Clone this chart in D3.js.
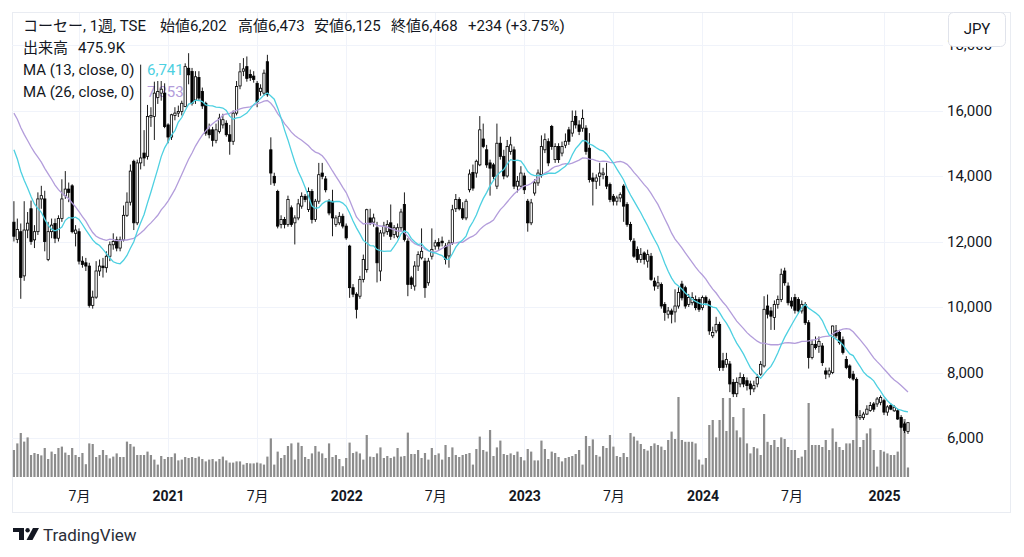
<!DOCTYPE html>
<html>
<head>
<meta charset="utf-8">
<script src="https://cdn.jsdelivr.net/npm/d3@7"></script>
<style>
  body { margin: 0; background: #fff; }
  svg { display: block; }
  text { font-family: Roboto, "Noto Sans CJK JP", sans-serif; fill: #131722; }
</style>
</head>
<body>
<div id="chart"></div>
<script>
// weekly bars, 2020-02-24 .. 2025-02-24 (index 0..261)
// closes before the first visible bar, estimated from where the two MA lines start
var preCloses = [17200,17500,17800,17400,17000,16800,17100,17300,16900,16700,16800,16700,16320,
  16000,15800,15900,15600,15400,15300,15100,14900,14800,14600,14100,12740];

var opens = [
  12590,12060,12300,10950,12350,13000,12050,12300,13300,13300,
  11450,12300,12550,12100,12700,13400,13600,13700,12250,12300,
  11400,11350,11250,10050,10300,11100,11250,11200,11550,11900,
  12050,11800,12050,12800,13200,14450,12570,14400,14700,14600,
  15800,15820,16400,16530,16530,15560,15190,15850,15920,15970,
  16120,17290,17190,16320,17010,16580,16220,15410,15410,15090,
  15360,15560,15610,15260,15060,15920,16750,17200,17340,17100,
  17050,16830,16580,16530,17490,14800,13990,13530,12520,12670,
  12520,13030,12570,12720,13080,13380,12980,13530,12670,13230,
  14090,13910,13230,13230,12520,12570,12770,12470,11860,10590,
  10390,10330,10840,11140,12720,12590,12420,11100,12260,12300,
  12570,12210,12160,12420,13130,12010,10890,10640,11250,11500,
  11400,10740,11550,11860,11970,12010,11860,11560,11960,13000,
  13280,13000,12720,13580,14110,14090,14340,15130,14800,14400,
  14340,13690,15000,14600,14000,14750,14800,13690,13690,14000,
  13230,12570,13480,13790,14040,14800,15050,15510,14500,14900,
  14700,14940,15410,15310,15820,15560,15460,15460,14850,13940,
  13840,13990,14040,13990,13740,13380,13230,13330,13690,13130,
  12520,12010,11760,11450,11650,11400,11550,10790,10640,10690,
  10080,9780,9880,9850,10030,10700,10590,10080,10130,10230,
  10230,9980,10290,10180,9120,9270,9470,8360,8250,8260,
  7700,7350,7650,7850,7750,7650,7500,7650,7950,8200,
  10030,9880,9680,10080,10230,11100,10640,10180,10290,10230,
  9880,10080,9520,8460,8860,8800,8810,8050,7950,8000,
  9270,9220,9000,8400,8200,7950,7790,6620,6620,6730,
  6840,7040,7040,7090,7140,6790,6990,6830,6830,6630,
  6430,6202];

var highs = [
  13230,12700,12550,13230,12900,13250,12500,13500,13700,13550,
  12600,12700,12700,12800,13900,14150,13800,13750,12500,12400,
  11550,11500,11350,10500,11400,11450,11500,11700,12000,12250,
  12150,12150,13100,13500,14350,14500,14500,17400,15400,16170,
  16100,16880,16900,16900,16830,15610,15900,16100,16150,16300,
  17440,17750,17300,17200,17200,16700,16270,15600,15500,15600,
  15900,15900,15700,15560,16000,16900,17450,17600,17650,17250,
  17200,16900,16800,17250,17700,15180,14100,13580,12800,12750,
  13400,13100,12800,13300,13500,13450,13650,13600,13300,14400,
  14400,14000,13300,13580,12800,12900,12850,12550,11900,10700,
  10450,10950,11600,13000,13000,12850,12600,12350,12600,12650,
  13130,12500,12550,13000,13500,12100,10950,11400,11700,12400,
  11500,11500,12400,12050,12100,12150,11950,12050,13120,13450,
  13350,13200,13300,14200,14350,14500,15830,15600,14950,14500,
  14400,15600,15200,14800,15100,15200,14900,14000,14300,14100,
  13300,13300,13900,14200,15240,15300,15150,15560,15000,15000,
  15050,15300,15500,16000,16000,15700,16030,15550,15310,14100,
  14050,14400,14250,14400,13800,13450,13400,13500,13750,13200,
  12600,12100,11850,11800,11700,11750,11650,10900,10950,10750,
  10150,10000,9950,10540,10600,10800,10650,10400,10450,10350,
  10300,10350,10350,10250,9400,9700,9550,8600,8600,8350,
  7800,7850,8000,7950,7850,7750,7750,7950,8350,10330,
  10380,10000,10200,10350,11170,11200,10750,10300,10400,10300,
  10200,10150,9600,9000,9100,9100,8900,8150,8150,9430,
  9450,9300,9100,8500,8250,8050,7850,6850,6800,7000,
  7100,7100,7250,7300,7200,7000,7050,7000,6900,6700,
  6500,6473];

var lows = [
  12000,11950,10250,10800,12100,11900,11800,12200,13000,11700,
  11400,12100,11950,12000,12600,13300,13200,12250,11850,11300,
  11200,11100,9980,9950,10250,10950,10900,11050,11400,11750,
  11700,11700,12000,12750,13100,12350,12500,14200,14300,14500,
  15500,15100,16200,16300,15460,15000,15100,15700,15800,15850,
  16100,16800,16150,16200,16300,16050,15230,15150,14900,15000,
  15300,15450,15200,14650,14950,15850,16650,17050,16880,16900,
  16850,16100,16450,16450,16420,13730,13700,12400,12400,12400,
  12450,12450,11910,12650,13000,13200,12900,12550,12600,13150,
  13900,13500,12800,12160,12450,12500,12400,12050,10280,10300,
  9650,10250,10750,11050,12500,12450,10750,10790,12150,12200,
  12050,12100,12100,12300,12000,10330,10550,10500,11100,11450,
  10280,10650,11450,11750,11750,11850,11300,11200,11900,12900,
  12950,12660,12650,13500,13550,13950,14300,14850,14250,13400,
  13900,13600,14500,13900,13950,14650,13600,13500,13650,13450,
  12300,12500,13400,13700,13950,14700,14300,14800,14400,14400,
  14600,14850,14950,15200,15450,15250,15350,14650,13800,13100,
  13600,13700,13900,13600,13200,13100,13100,13200,12600,12450,
  12000,11500,11350,11350,11300,11200,10800,10500,10550,9950,
  9580,9650,9500,9530,9950,10200,9950,10000,10050,9900,
  9850,9900,10050,9150,9050,9200,8050,8050,8150,7400,
  7250,7250,7550,7550,7450,7310,7400,7550,7900,8150,
  9650,9300,9300,9950,10150,10650,10050,9950,9800,9800,
  9800,9450,8120,8400,8700,8600,8200,7800,7850,7950,
  9050,8850,8550,8100,7800,7750,6600,6550,6550,6700,
  6800,6800,6950,7000,6700,6680,6850,6800,6550,6300,
  6150,6125];

var closes = [
  12160,12370,10900,12350,12560,12000,12300,13300,13400,12000,
  12300,12500,12100,12700,13300,13600,13500,12300,12350,11400,
  11300,11250,10050,10300,11100,11250,11200,11550,11900,12000,
  11800,12050,12800,13200,14150,12570,14400,14550,14550,15820,
  15850,16530,16580,16650,15510,15190,15870,15920,15970,16220,
  17340,17090,16220,17030,16380,16140,15310,15260,15090,15410,
  15770,15720,15260,15060,15920,16730,17180,17270,16980,17000,
  16950,16270,16680,17140,16480,14090,13790,12470,12670,12520,
  13280,12520,12720,13150,13380,13280,13530,12670,13230,14040,
  13990,13580,12870,12720,12720,12770,12470,12110,10590,10390,
  9930,10840,11450,12970,12570,12720,11350,12260,12470,12520,
  12160,12420,12420,12900,12060,10690,10690,11250,11600,11700,
  10590,11400,11760,11960,11860,11960,11450,11960,12970,13280,
  13000,12720,13230,14060,13630,14450,15410,14900,14340,14240,
  13990,15000,14600,14000,14900,14950,13690,13840,14090,13580,
  12570,13180,13790,14090,14900,15110,14400,14900,14900,14500,
  14900,15060,15060,15670,15560,15360,15760,14750,13890,13840,
  13940,14090,14090,13690,13280,13230,13330,13430,13080,12520,
  12060,11550,11450,11600,11450,11600,10840,10640,10740,10030,
  9830,9880,9780,10030,10440,10280,10030,10290,10290,9980,
  9930,10290,10130,9270,9220,9470,8150,8150,8400,7650,
  7350,7700,7850,7650,7600,7500,7600,7850,8250,9930,
  9780,9720,10080,10230,11000,10740,10130,10030,9900,9880,
  10080,9520,8460,8860,8760,8950,8300,7950,8050,9420,
  9120,8910,8610,8150,7850,7800,6680,6680,6730,6880,
  6990,6880,7190,7240,6790,6950,6880,6940,6580,6330,
  6234,6468];

// volume in thousands of shares
var volumes = [
  1350,1680,2200,1770,1980,1100,1200,1150,1080,1450,
  900,1270,1150,1450,1520,1220,1100,1450,1100,1000,
  1200,640,1680,1650,1000,1100,1350,1100,930,1020,
  1180,1000,1000,1770,1650,1520,1100,1100,1100,1270,
  1100,870,620,1050,900,1000,1000,1180,830,870,
  1000,950,1000,950,1020,900,780,870,900,780,
  900,1020,830,720,720,780,780,620,700,680,
  680,720,680,620,1020,1930,620,1270,950,1100,
  1550,1680,870,1720,1550,1000,900,1180,1550,1270,
  1180,950,1680,1000,1100,900,540,950,1720,1200,
  1270,1180,870,2100,1020,1000,1180,1480,950,1050,
  950,1020,1450,1020,1050,2220,1150,1150,1350,950,
  1200,870,1450,1100,1180,870,1600,1000,1480,1100,
  1000,1100,1150,1200,620,1400,2020,1350,1270,2350,
  1050,1480,1820,1150,1100,1180,1100,1270,1000,830,
  1400,1270,830,830,1820,1400,900,1270,1200,1000,
  780,950,1000,1050,1150,1350,620,2050,1550,1880,
  1100,1020,1550,1450,2100,1520,1050,1000,1200,1000,
  2200,2020,1820,1650,1400,1320,1550,1680,1600,1520,
  1350,1850,2270,1900,4000,1850,1760,1760,1760,1680,
  870,620,950,2600,2850,1980,2850,3950,2300,3950,
  3000,2330,1980,3450,1680,1180,1500,1430,1100,3150,
  1760,1600,1850,1500,1980,1900,1500,1350,1350,950,
  1020,1350,3700,1600,1600,1600,1500,1850,1350,2430,
  1760,1500,1350,1680,1680,1850,3650,1500,1850,2180,
  2430,1350,520,1350,1270,1180,1100,1100,1270,3000,
  2900,476];

var tickIdx = [19, 45, 71, 97, 123, 149, 175, 201, 227, 254];
var tickLabels = ["7月", "2021", "7月", "2022", "7月", "2023", "7月", "2024", "7月", "2025"];
var priceTicks = [6000, 8000, 10000, 12000, 14000, 16000, 18000];

var W = 1024, H = 557;
var plotL = 12, plotR = 943, plotT = 13, plotB = 477;

var svg = d3.select("#chart").append("svg").attr("width", W).attr("height", H);

var x = d3.scaleLinear().domain([19, 254]).range([79, 884]);
var y = d3.scaleLinear().domain([6000, 16000]).range([438, 110.5]);
var vy = d3.scaleLinear().domain([0, 4000]).range([plotB, plotB - 80]);

// moving averages
var allCloses = preCloses.concat(closes);
function ma(n) {
  return closes.map(function(c, i) {
    return d3.mean(allCloses.slice(i + preCloses.length - n + 1, i + preCloses.length + 1));
  });
}
var ma13 = ma(13), ma26 = ma(26);

svg.append("defs").append("clipPath").attr("id", "clip")
  .append("rect").attr("x", plotL).attr("y", plotT).attr("width", plotR - plotL).attr("height", plotB - plotT);

// frame
svg.append("rect").attr("x", 12.5).attr("y", 12.5).attr("width", 998).attr("height", 500)
  .attr("fill", "none").attr("stroke", "#e9ecf2");

// grid
var grid = svg.append("g").attr("stroke", "#f0f3fa").attr("stroke-width", 1);
grid.selectAll("line.h").data(priceTicks).enter().append("line")
  .attr("x1", plotL).attr("x2", plotR)
  .attr("y1", function(d) { return Math.round(y(d)) + 0.5; })
  .attr("y2", function(d) { return Math.round(y(d)) + 0.5; });
grid.selectAll("line.v").data(tickIdx).enter().append("line")
  .attr("y1", plotT).attr("y2", plotB)
  .attr("x1", function(d) { return Math.round(x(d)) + 0.5; })
  .attr("x2", function(d) { return Math.round(x(d)) + 0.5; });

// legend (drawn under the candles)
var leg = svg.append("g").style("font-size", "15px");
var line1 = [["コーセー, 1週, TSE", 23], ["始値6,202", 160], ["高値6,473", 238],
  ["安値6,125", 314], ["終値6,468", 391], ["+234 (+3.75%)", 468]];
leg.selectAll("text.l1").data(line1).enter().append("text")
  .attr("x", function(d) { return d[1]; }).attr("y", 31).text(function(d) { return d[0]; });
leg.append("text").attr("x", 23).attr("y", 53).text("出来高");
leg.append("text").attr("x", 78).attr("y", 53).text("475.9K");
leg.append("text").attr("x", 23).attr("y", 75).text("MA (13, close, 0)");
leg.append("text").attr("x", 147).attr("y", 75).style("fill", "#4dd0e1").text("6,741");
leg.append("text").attr("x", 23).attr("y", 97).text("MA (26, close, 0)");
leg.append("text").attr("x", 147).attr("y", 97).style("fill", "#b39ddb").text("7,353");

var plot = svg.append("g").attr("clip-path", "url(#clip)");

// volume
plot.append("g").selectAll("rect").data(volumes).enter().append("rect")
  .attr("x", function(d, i) { return x(i) - 1.1; })
  .attr("width", 2.2)
  .attr("y", function(d) { return vy(d); })
  .attr("height", function(d) { return plotB - vy(d); })
  .attr("fill", "#8c8c8c");

// candles
var bars = closes.map(function(c, i) {
  return { i: i, o: opens[i], h: highs[i], l: lows[i], c: c };
});
var cg = plot.append("g");
cg.selectAll("line").data(bars).enter().append("line")
  .attr("x1", function(d) { return x(d.i); }).attr("x2", function(d) { return x(d.i); })
  .attr("y1", function(d) { return y(d.h); }).attr("y2", function(d) { return y(d.l); })
  .attr("stroke", "#000").attr("stroke-width", 0.9);
cg.selectAll("rect").data(bars).enter().append("rect")
  .attr("x", function(d) { return x(d.i) - 1.15; })
  .attr("width", 2.3)
  .attr("y", function(d) { return y(Math.max(d.o, d.c)); })
  .attr("height", function(d) { return Math.max(1, Math.abs(y(d.o) - y(d.c))); })
  .attr("fill", function(d) { return d.c >= d.o ? "#fff" : "#000"; })
  .attr("stroke", "#000").attr("stroke-width", 0.8);

// MA lines
var line = d3.line().x(function(d, i) { return x(i); }).y(function(d) { return y(d); });
plot.append("path").datum(ma26).attr("d", line).attr("fill", "none")
  .attr("stroke", "#b39ddb").attr("stroke-width", 1.3);
plot.append("path").datum(ma13).attr("d", line).attr("fill", "none")
  .attr("stroke", "#4dd0e1").attr("stroke-width", 1.3);

// axes
var yAxis = svg.append("g").attr("transform", "translate(947,0)")
  .call(d3.axisRight(y).tickValues(priceTicks).tickFormat(d3.format(",")).tickSize(0).tickPadding(0));
yAxis.select(".domain").remove();
yAxis.selectAll("text").style("font-size", "15px").style("font-family", null).attr("fill", null);

var xAxis = svg.append("g").attr("transform", "translate(0,491)")
  .call(d3.axisBottom(x).tickValues(tickIdx).tickFormat(function(d, i) { return tickLabels[i]; }).tickSize(0).tickPadding(0));
xAxis.select(".domain").remove();
xAxis.selectAll("text").style("font-size", "14px").style("font-family", null).attr("fill", null)
  .style("font-weight", function(d, i) { return /^\d+$/.test(tickLabels[i]) ? 700 : 400; });

// currency button (covers most of the top price label)
svg.append("rect").attr("x", 948.5).attr("y", 12.5).attr("width", 57).attr("height", 34).attr("rx", 5)
  .attr("fill", "#fff").attr("stroke", "#e0e3eb");
svg.append("text").attr("x", 977).attr("y", 34).attr("text-anchor", "middle")
  .style("font-size", "15px").text("JPY");

// logo
var logo = svg.append("g").attr("fill", "#131722");
logo.append("path").attr("d", "M13,528 h11 v12 h-5 v-8 h-6 z");
logo.append("circle").attr("cx", 27.6).attr("cy", 530.2).attr("r", 2.2);
logo.append("path").attr("d", "M33,528 h6 l-6.5,12 h-6 z");
svg.append("text").attr("x", 43).attr("y", 541).style("font-size", "17px").style("fill", "#2a2e39").text("TradingView");
</script>
